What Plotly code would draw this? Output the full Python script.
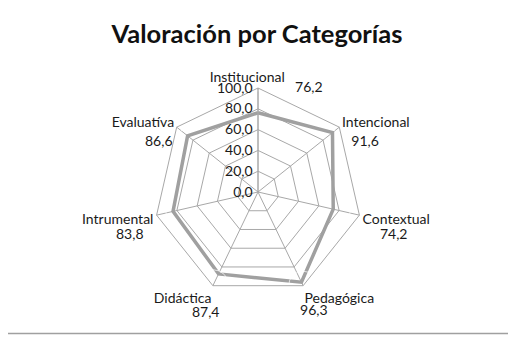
import plotly.graph_objects as go

categories = ["Institucional", "Intencional", "Contextual", "Pedagógica", "Didáctica", "Intrumental", "Evaluatíva"]
values = [76.2, 91.6, 74.2, 96.3, 87.4, 83.8, 86.6]
value_labels = ["76,2", "91,6", "74,2", "96,3", "87,4", "83,8", "86,6"]
radial_ticks = [0, 20, 40, 60, 80, 100]

# label styling (not data)
NB = "\u00a0"
name_pad_after = [6, 0, 0, 0, 0, 0, 0]
val_pad_before = [9, 1, 2, 6, 0, 0, 0]
val_pad_after = [0, 0, 0, 0, 4, 15, 10]
val_positions = ["middle right", "bottom right", "bottom right", "bottom center",
                 "bottom center", "bottom center", "bottom center"]
val_offsets = [6, 11.8, 19.8, 29, 32, 19.8, 11.8]

ticktext = [c + NB * p for c, p in zip(categories, name_pad_after)]
val_text = [NB * a + v + NB * b for v, a, b in zip(value_labels, val_pad_before, val_pad_after)]

fig = go.Figure()
fig.add_trace(go.Scatterpolar(
    r=values + [values[0]],
    theta=categories + [categories[0]],
    mode="lines",
    line=dict(color="#a0a0a0", width=3.5),
    hoverinfo="skip",
    showlegend=False,
))
fig.add_trace(go.Scatterpolar(
    r=[100] * len(categories),
    theta=categories,
    mode="markers+text",
    text=val_text,
    textposition=val_positions,
    marker=dict(size=val_offsets, color="rgba(0,0,0,0)"),
    textfont=dict(size=14, color="#1a1a1a"),
    cliponaxis=False,
    hoverinfo="skip",
    showlegend=False,
))

# page body has an 8px margin; figure laid out in the visible 508x332 area
W, H = 508, 332
cx, cy, R = 250, 184, 104
fig.update_layout(
    width=W, height=H,
    margin=dict(l=0, r=0, t=0, b=0),
    paper_bgcolor="white",
    plot_bgcolor="white",
    font=dict(family="Lato, 'Open Sans', sans-serif", size=14, color="#1a1a1a"),
    title=dict(text="<b>Valoración por Categorías</b>", x=(257 - 8) / W, xanchor="center",
               y=1 - 26 / H, yanchor="middle",
               font=dict(size=25.5, color="#111111")),
    polar=dict(
        domain=dict(x=[(cx - R) / W, (cx + R) / W], y=[(H - cy - R) / H, (H - cy + R) / H]),
        gridshape="linear",
        bgcolor="white",
        angularaxis=dict(
            rotation=90, direction="clockwise",
            tickmode="array", tickvals=categories, ticktext=ticktext,
            showline=True, linecolor="#a8a8a8", linewidth=1,
            gridcolor="#a8a8a8", gridwidth=1,
            ticks="", tickfont=dict(size=14),
        ),
        radialaxis=dict(
            range=[0, 100], angle=90, tickangle=90,
            tickmode="array", tickvals=radial_ticks,
            tickformat=".1f", showline=True, linecolor="#a8a8a8",
            gridcolor="#a8a8a8", ticks="", tickfont=dict(size=14),
            side="counterclockwise",
        ),
    ),
    separators=",.",
    shapes=[dict(type="rect", xref="paper", yref="paper",
                 x0=-4 / W, x1=504 / W, y0=(H - 325.5) / H, y1=(H + 4) / H,
                 line=dict(color="#a0a0a0", width=1.5))],
)
fig.write_html("out.html")
